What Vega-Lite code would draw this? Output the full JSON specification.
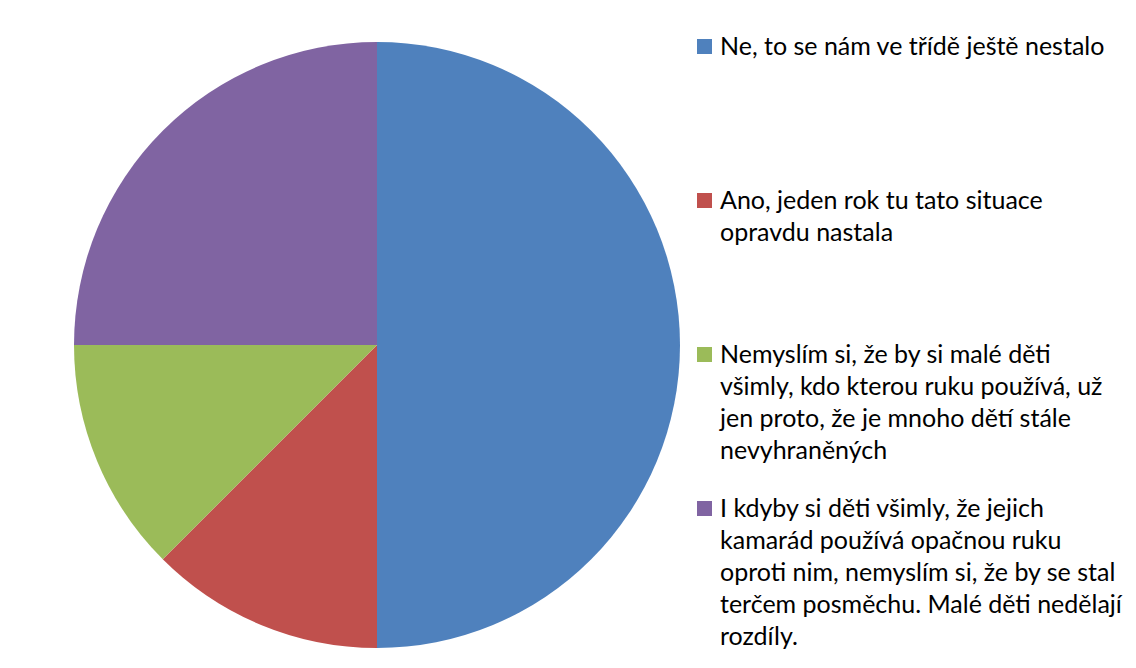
{
  "$schema": "https://vega.github.io/schema/vega-lite/v6.json",
  "width": 606,
  "height": 606,
  "padding": {"left": 74, "top": 42, "right": 456, "bottom": 20},
  "autosize": {"type": "none"},
  "background": "white",
  "config": {"view": {"stroke": null}, "style": {"guide-label": {"lineHeight": 32}}},
  "data": {
    "values": [
      {"i": 1, "odpoved": "Ne, to se nám ve třídě ještě nestalo", "pocet": 4},
      {"i": 2, "odpoved": "Ano, jeden rok tu tato situace opravdu nastala", "pocet": 1},
      {"i": 3, "odpoved": "Nemyslím si, že by si malé děti všimly, kdo kterou ruku používá, už jen proto, že je mnoho dětí stále nevyhraněných", "pocet": 1},
      {"i": 4, "odpoved": "I kdyby si děti všimly, že jejich kamarád používá opačnou ruku oproti nim, nemyslím si, že by se stal terčem posměchu. Malé děti nedělají rozdíly.", "pocet": 2}
    ]
  },
  "mark": {"type": "arc", "stroke": null},
  "encoding": {
    "theta": {"field": "pocet", "type": "quantitative", "stack": true},
    "order": {"field": "i", "type": "quantitative"},
    "color": {
      "field": "odpoved",
      "type": "nominal",
      "sort": null,
      "scale": {
        "domain": [
          "Ne, to se nám ve třídě ještě nestalo",
          "Ano, jeden rok tu tato situace opravdu nastala",
          "Nemyslím si, že by si malé děti všimly, kdo kterou ruku používá, už jen proto, že je mnoho dětí stále nevyhraněných",
          "I kdyby si děti všimly, že jejich kamarád používá opačnou ruku oproti nim, nemyslím si, že by se stal terčem posměchu. Malé děti nedělají rozdíly."
        ],
        "range": ["#4F81BD", "#C0504D", "#9BBB59", "#8064A2"]
      },
      "legend": {
        "title": null,
        "orient": "none",
        "legendX": 618,
        "legendY": -8,
        "padding": 0,
        "symbolType": "square",
        "symbolSize": 225,
        "symbolStrokeWidth": 0,
        "labelFont": "Lato",
        "labelFontSize": 25,
        "labelColor": "#000000",
        "labelOffset": 3,
        "labelLimit": 0,
        "gridAlign": "all",
        "rowPadding": 0,
        "encode": {"labels": {"enter": {"lineHeight": {"value": 32}}, "update": {"lineHeight": {"value": 32}}}},
        "labelExpr": "indexof(datum.label, 'Ano') == 0 ? ['Ano, jeden rok tu tato situace', 'opravdu nastala'] : indexof(datum.label, 'Nemyslím') == 0 ? ['Nemyslím si, že by si malé děti', 'všimly, kdo kterou ruku používá, už', 'jen proto, že je mnoho dětí stále', 'nevyhraněných'] : indexof(datum.label, 'I kdyby') == 0 ? ['I kdyby si děti všimly, že jejich', 'kamarád používá opačnou ruku', 'oproti nim, nemyslím si, že by se stal', 'terčem posměchu. Malé děti nedělají', 'rozdíly.'] : datum.label"
      }
    }
  }
}
